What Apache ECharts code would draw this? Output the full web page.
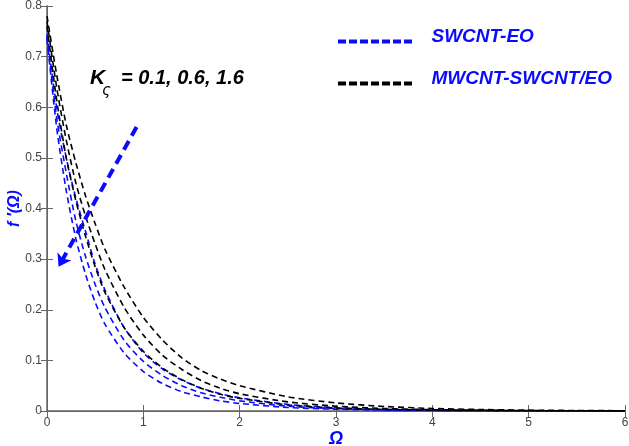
<!DOCTYPE html>
<html><head><meta charset="utf-8">
<script src="https://cdn.jsdelivr.net/npm/echarts@6/dist/echarts.min.js"></script>
<style>html,body{margin:0;padding:0;background:#fff}#c{width:629px;height:446px}</style>
</head><body><div id="c"></div>
<script>
const xs = [0,0.1,0.2,0.3,0.4,0.5,0.6,0.8,1.0,1.2,1.4,1.6,1.8,2.0,2.5,3.0,3.5,4.0,4.5,5.0,5.5,6.0];
const xTicks = ['0','1','2','3','4','5','6'];
const yTicks = ['0','0.1','0.2','0.3','0.4','0.5','0.6','0.7','0.8'];
// SWCNT-EO (blue), K = 0.1, 0.6, 1.6
const blueK1 = [0.745,0.6,0.5,0.42,0.355,0.29,0.24,0.165,0.115,0.083,0.061,0.045,0.034,0.026,0.013,0.0065,0.0033,0.0017,0.0009,0.0005,0.0002,0.0001];
const blueK2 = [0.74,0.58,0.47,0.375,0.305,0.25,0.205,0.14,0.098,0.07,0.05,0.036,0.027,0.02,0.0095,0.0047,0.0023,0.0012,0.0006,0.0003,0.0002,0.0001];
const blueK3 = [0.735,0.56,0.435,0.34,0.27,0.215,0.172,0.115,0.078,0.054,0.038,0.028,0.02,0.015,0.007,0.0034,0.0017,0.0009,0.0004,0.0002,0.0001,0];
// MWCNT-SWCNT/EO (black)
const blackK1 = [0.78,0.665,0.565,0.49,0.425,0.37,0.32,0.245,0.185,0.14,0.105,0.08,0.063,0.05,0.028,0.016,0.009,0.005,0.003,0.0017,0.001,0.0005];
const blackK2 = [0.77,0.64,0.535,0.45,0.385,0.33,0.28,0.205,0.15,0.11,0.082,0.06,0.045,0.034,0.018,0.0095,0.005,0.0027,0.0015,0.0008,0.0004,0.0002];
const blackK3 = [0.76,0.615,0.5,0.415,0.345,0.285,0.235,0.165,0.118,0.085,0.062,0.045,0.033,0.025,0.012,0.006,0.003,0.0015,0.0008,0.0004,0.0002,0.0001];
const arrowFrom = [0.93, 0.561];
const arrowTo = [0.12, 0.285];
const legendNames = ['SWCNT-EO', 'MWCNT-SWCNT/EO'];

const pairs = a => xs.map((x,i)=>[x,a[i]]);
const BLUE = '#0a0aff', BLACK = '#000000';
function curve(name, arr, color){
  return {type:'line', name, data:pairs(arr), symbol:'none', showSymbol:false, smooth:0.25,
    lineStyle:{color, width:1.6, type:[6,4]}, itemStyle:{color}, z:3, silent:true, animation:false};
}
const series = [
  curve(legendNames[0], blueK1, BLUE),
  curve(legendNames[0], blueK2, BLUE),
  curve(legendNames[0], blueK3, BLUE),
  curve(legendNames[1], blackK1, BLACK),
  curve(legendNames[1], blackK2, BLACK),
  curve(legendNames[1], blackK3, BLACK),
  {type:'line', name:'arrow', data:[], animation:false, silent:true,
   markLine:{silent:true, symbol:['none','arrow'], symbolSize:[12,12], label:{show:false},
     lineStyle:{color:BLUE, width:4, type:[10,6]},
     data:[[{coord:arrowFrom},{coord:arrowTo}]]}}
];
// dashed bar icon for the legend (7 dashes)
const dashIcon = 'path://M0,0h8v4h-8z M11,0h8v4h-8z M22,0h8v4h-8z M33,0h8v4h-8z M44,0h8v4h-8z M55,0h8v4h-8z M66,0h8v4h-8z';
const axisFont = {color:'#444', fontSize:12, fontFamily:'Liberation Sans, Arial'};
const chart = echarts.init(document.getElementById('c'), null, {renderer:'canvas'});
chart.setOption({
  animation:false,
  backgroundColor:'#fff',
  grid:{left:47, right:4, top:6, bottom:35, containLabel:false, outerBoundsMode:'none'},
  xAxis:[{type:'value', min:0, max:6, interval:1, position:'bottom',
    name:'Ω', nameLocation:'middle', nameGap:19, nameMoveOverlap:false,
    nameTextStyle:{color:BLUE, fontSize:18, fontStyle:'italic', fontWeight:'bold', fontFamily:'Liberation Sans, Arial', verticalAlign:'top'},
    axisLine:{lineStyle:{color:'#666', width:1.5}}, axisTick:{inside:true, length:6, lineStyle:{color:'#666'}},
    axisLabel:Object.assign({formatter:(v)=>xTicks[Math.round(v)] ?? '', margin:6}, axisFont), splitLine:{show:false}},
   {type:'value', min:0, max:6, interval:1, position:'top',
    axisLine:{lineStyle:{color:'#666', width:1}}, axisTick:{inside:true, length:6, lineStyle:{color:'#666'}},
    axisLabel:{show:false}, splitLine:{show:false}}],
  yAxis:[{type:'value', min:0, max:0.8, interval:0.1, position:'left',
    name:'f ′(Ω)', nameLocation:'middle', nameGap:32, nameRotate:90, nameMoveOverlap:false,
    nameTextStyle:{color:BLUE, fontSize:16, fontStyle:'italic', fontWeight:'bold', fontFamily:'Liberation Sans, Arial', verticalAlign:'middle'},
    axisLine:{lineStyle:{color:'#666', width:1.5}}, axisTick:{inside:true, length:6, lineStyle:{color:'#666'}},
    axisLabel:Object.assign({formatter:(v)=>yTicks[Math.round(v*10)] ?? '', margin:5}, axisFont), splitLine:{show:false}},
   {type:'value', min:0, max:0.8, interval:0.1, position:'right',
    axisLine:{lineStyle:{color:'#666', width:1}}, axisTick:{inside:true, length:6, lineStyle:{color:'#666'}},
    axisLabel:{show:false}, splitLine:{show:false}}],
  legend:{data:legendNames, orient:'vertical', left:333, top:22, itemGap:23, itemWidth:77, itemHeight:4,
    icon:dashIcon, formatter:'{a|{name}}',
    textStyle:{color:BLUE, fontSize:19, fontStyle:'italic', fontWeight:'bold', fontFamily:'Liberation Sans, Arial', padding:[0,0,0,13],
      rich:{a:{color:BLUE, fontSize:19, fontStyle:'italic', fontWeight:'bold', fontFamily:'Liberation Sans, Arial', padding:[0,0,10,0]}}},
    selectedMode:false},
  graphic:[
    {type:'text', left:90, top:68, silent:true,
     style:{text:'K', fontSize:21, fontStyle:'italic', fontWeight:'bold', fill:'#000', fontFamily:'Liberation Sans, Arial'}},
    {type:'text', left:102, top:84, silent:true,
     style:{text:'ς', fontSize:15, fontStyle:'italic', fill:'#000', fontFamily:'DejaVu Sans'}},
    {type:'text', left:121, top:68, silent:true,
     style:{text:'= 0.1, 0.6, 1.6', fontSize:20, fontStyle:'italic', fontWeight:'bold', fill:'#000', fontFamily:'Liberation Sans, Arial'}}
  ],
  series
});
</script></body></html>
